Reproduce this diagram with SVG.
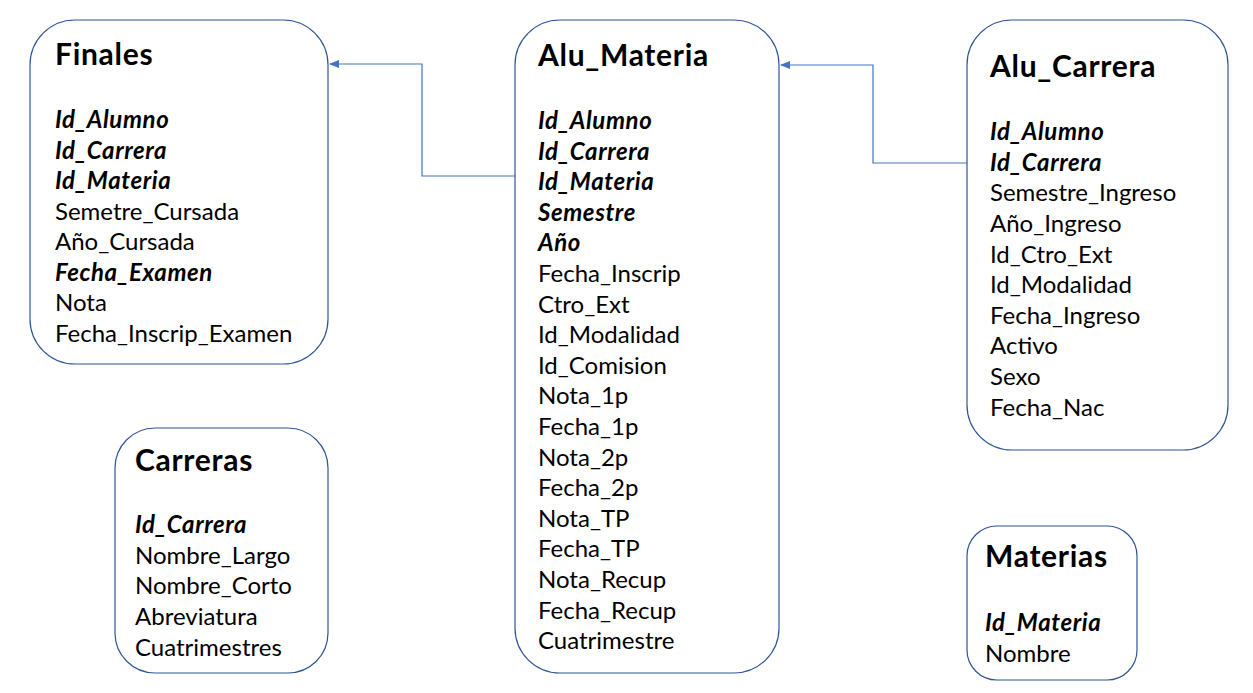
<svg xmlns="http://www.w3.org/2000/svg" width="1253" height="693" viewBox="0 0 1253 693">
<defs>
<style>
.box{fill:#fff;stroke:#2f5597;stroke-width:1.2}
.t{font-family:Lato,"Open Sans",sans-serif;font-size:30px;font-weight:bold;fill:#000;letter-spacing:0.7px}
.f{font-family:Lato,"Open Sans",sans-serif;font-size:24px;fill:#000}
.k{font-weight:bold;font-style:italic;letter-spacing:0.6px}
.c{fill:none;stroke:#4472c4;stroke-width:1.2}
</style>
<marker id="ah" markerWidth="10" markerHeight="8" refX="9" refY="4" orient="auto" markerUnits="userSpaceOnUse">
<path d="M0,0 L10,4 L0,8 Z" fill="#4472c4"/>
</marker>
</defs>
<rect width="1253" height="693" fill="#fff"/>
<g id="connectors">
<polyline class="c" points="515,176 422,176 422,64 330,64" marker-end="url(#ah)"/>
<polyline class="c" points="967,163 873,163 873,65 781,65" marker-end="url(#ah)"/>
</g>
<g id="finales">
<rect class="box" x="30" y="20" width="298" height="344" rx="45"/>
<text class="t" x="55" y="65">Finales</text>
<g class="f">
<text x="55" y="128" class="k">Id_Alumno</text>
<text x="55" y="159" class="k">Id_Carrera</text>
<text x="55" y="189" class="k">Id_Materia</text>
<text x="55" y="220">Semetre_Cursada</text>
<text x="55" y="250">Año_Cursada</text>
<text x="55" y="281" class="k">Fecha_Examen</text>
<text x="55" y="311">Nota</text>
<text x="55" y="342">Fecha_Inscrip_Examen</text>
</g>
</g>
<g id="alu_materia">
<rect class="box" x="515" y="20" width="264" height="653" rx="45"/>
<text class="t" x="538" y="66">Alu_Materia</text>
<g class="f">
<text x="538" y="129" class="k">Id_Alumno</text>
<text x="538" y="160" class="k">Id_Carrera</text>
<text x="538" y="190" class="k">Id_Materia</text>
<text x="538" y="221" class="k">Semestre</text>
<text x="538" y="251" class="k">Año</text>
<text x="538" y="282">Fecha_Inscrip</text>
<text x="538" y="313">Ctro_Ext</text>
<text x="538" y="343">Id_Modalidad</text>
<text x="538" y="374">Id_Comision</text>
<text x="538" y="404">Nota_1p</text>
<text x="538" y="435">Fecha_1p</text>
<text x="538" y="466">Nota_2p</text>
<text x="538" y="496">Fecha_2p</text>
<text x="538" y="527">Nota_TP</text>
<text x="538" y="557">Fecha_TP</text>
<text x="538" y="588">Nota_Recup</text>
<text x="538" y="619">Fecha_Recup</text>
<text x="538" y="649">Cuatrimestre</text>
</g>
</g>
<g id="alu_carrera">
<rect class="box" x="967" y="20" width="261" height="430" rx="45"/>
<text class="t" x="990" y="77">Alu_Carrera</text>
<g class="f">
<text x="990" y="140" class="k">Id_Alumno</text>
<text x="990" y="171" class="k">Id_Carrera</text>
<text x="990" y="201">Semestre_Ingreso</text>
<text x="990" y="232">Año_Ingreso</text>
<text x="990" y="263">Id_Ctro_Ext</text>
<text x="990" y="293">Id_Modalidad</text>
<text x="990" y="324">Fecha_Ingreso</text>
<text x="990" y="354">Activo</text>
<text x="990" y="385">Sexo</text>
<text x="990" y="416">Fecha_Nac</text>
</g>
</g>
<g id="carreras">
<rect class="box" x="115" y="428" width="213" height="245" rx="40"/>
<text class="t" x="135" y="471">Carreras</text>
<g class="f">
<text x="135" y="533" class="k">Id_Carrera</text>
<text x="135" y="564">Nombre_Largo</text>
<text x="135" y="594">Nombre_Corto</text>
<text x="135" y="625">Abreviatura</text>
<text x="135" y="656">Cuatrimestres</text>
</g>
</g>
<g id="materias">
<rect class="box" x="967" y="526" width="170" height="154" rx="30"/>
<text class="t" x="985" y="567">Materias</text>
<g class="f">
<text x="985" y="631" class="k">Id_Materia</text>
<text x="985" y="662">Nombre</text>
</g>
</g>
</svg>
